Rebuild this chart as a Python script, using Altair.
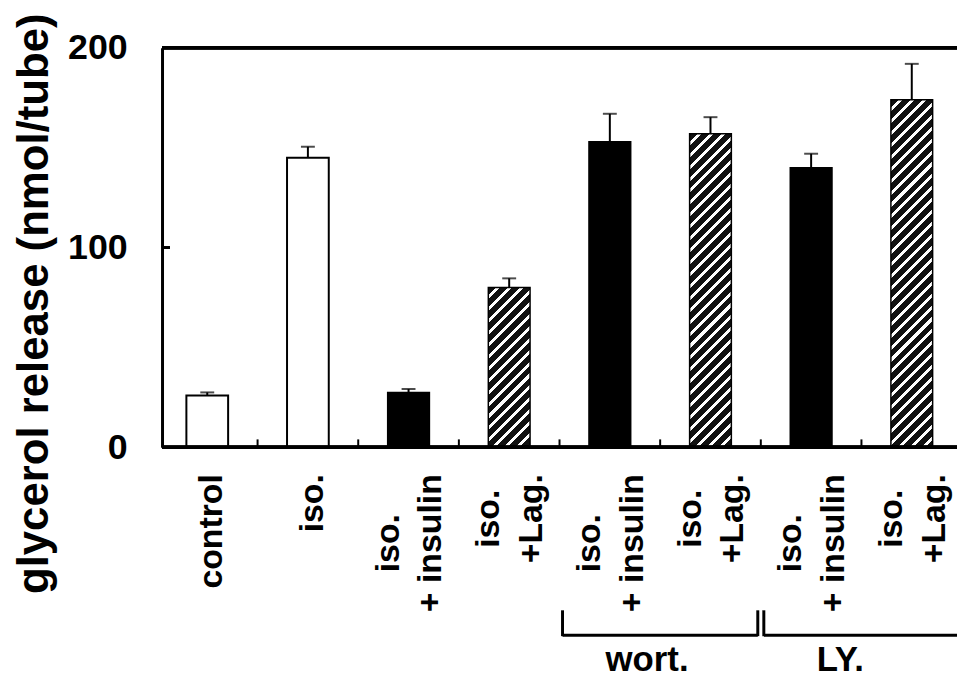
import altair as alt
import pandas as pd

# ---------------- data ----------------
labels = ["control", "iso.", "iso.|+ insulin", "iso.|+Lag.",
          "iso.|+ insulin", "iso.|+Lag.", "iso.|+ insulin", "iso.|+Lag."]
values = [26, 145, 27.5, 80, 153, 157, 140, 174]
errors = [1.5, 5.5, 1.7, 4.6, 14, 8.3, 7, 18]
styles = ["open", "open", "solid", "hatch", "solid", "hatch", "solid", "hatch"]

groups = ["wort.", "LY."]
group_first = [4, 6]
group_last = [5, 7]
group_label_x = [4.37, 6.29]

y_ticks = [0, 100, 200]
y_title = "glycerol release (nmol/tube)"

# ---------------- layout ----------------
PLOT_W, PLOT_H = 800, 402
BAR_W = 42
FONT = "Liberation Sans"
LABEL_SIZE = 34
LABEL_TOP = PLOT_H + 27          # pixel where the longest label line ends

# Arial/Liberation Sans Bold advance widths (per em) for centring the lines
ADV = {" ": .278, "+": .584, ".": .278, "L": .611, "a": .556, "c": .556, "g": .611,
       "i": .278, "l": .278, "n": .611, "o": .611, "r": .389, "s": .556, "t": .333,
       "u": .611}
def text_w(s):
    return sum(ADV.get(ch, .556) for ch in s) * LABEL_SIZE

rows = []
for i, lbl in enumerate(labels):
    parts = lbl.split("|")
    centre = LABEL_TOP + max(text_w(p) for p in parts) / 2.0
    for j, p in enumerate(parts):
        kind = "single" if len(parts) == 1 else ("first" if j == 0 else "second")
        rows.append({"idx": i, "line": p, "kind": kind, "ypix": centre})
lab_df = pd.DataFrame(rows)

df = pd.DataFrame({
    "idx": list(range(len(values))),
    "value": values,
    "err": errors,
    "style": styles,
})
df["upper"] = df["value"] + df["err"]

ticks_df = pd.DataFrame({"tx": [i + 0.5 for i in range(len(values) - 1)]})

gdf = pd.DataFrame({"group": groups, "first": group_first, "last": group_last,
                    "label_x": group_label_x})
gdf["left"] = gdf["first"] - 0.47
gdf["right"] = gdf["last"] + 0.47

xscale = alt.Scale(domain=[-0.4, 7.4], nice=False, zero=False)
yscale = alt.Scale(domain=[0, 200], nice=False, zero=False)
yaxis = alt.Axis(values=y_ticks, title=y_title, ticks=False, tickSize=0, grid=False,
                 domainWidth=3, domainColor="black",
                 labelFont=FONT, labelFontSize=36, labelFontWeight="bold", labelColor="black",
                 labelPadding=35, labelAlign="right", labelBaseline="middle",
                 titleFont=FONT, titleFontSize=44, titleFontWeight="bold", titleColor="black",
                 titleAngle=270, titleX=-115, titleY=257, titleAlign="center",
                 titleBaseline="alphabetic")

def X(field):
    return alt.X(field, scale=xscale, axis=None)

def Y(field):
    return alt.Y(field, scale=yscale, axis=yaxis)

base = alt.Chart(df)

open_bars = base.transform_filter(alt.datum.style == "open").mark_bar(
    size=BAR_W, fill="white", stroke="black", strokeWidth=2
).encode(x=X("idx:Q"), y=Y("value:Q"))

solid_bars = base.transform_filter(alt.datum.style == "solid").mark_bar(
    size=BAR_W, fill="black", stroke="black", strokeWidth=1.5
).encode(x=X("idx:Q"), y=Y("value:Q"))

def hatch_fill(v, period=12.0, black_frac=0.66):
    W = float(BAR_W)
    H = v * PLOT_H / 200.0
    s = W + H
    d = W * W + H * H
    n = s / period
    stops = []
    k = 0
    while k < n:
        a = min(k / n, 1.0)
        b = min((k + black_frac) / n, 1.0)
        c = min((k + 1) / n, 1.0)
        stops += [{"offset": a, "color": "#111111"}, {"offset": b, "color": "#111111"},
                  {"offset": b, "color": "#ffffff"}, {"offset": c, "color": "#ffffff"}]
        k += 1
    return {"gradient": "linear", "x1": 0, "y1": 0,
            "x2": W * s / d, "y2": H * s / d, "stops": stops}

hatch_layers = []
for i, (v, st) in enumerate(zip(values, styles)):
    if st != "hatch":
        continue
    hatch_layers.append(
        base.transform_filter(alt.datum.idx == i).mark_bar(
            size=BAR_W, fill=hatch_fill(v), stroke="black", strokeWidth=1.5
        ).encode(x=X("idx:Q"), y=Y("value:Q"))
    )

err_lines = base.mark_rule(color="black", strokeWidth=2).encode(
    x=X("idx:Q"), y=Y("value:Q"), y2="upper:Q")
err_caps = base.mark_tick(orient="horizontal", size=14, thickness=2, color="black").encode(
    x=X("idx:Q"), y=Y("upper:Q"))

top_line = alt.Chart(df).mark_rule(color="black", strokeWidth=3).encode(
    y=alt.Y(datum=200, type="quantitative", scale=yscale, axis=yaxis))
bottom_line = alt.Chart(df).mark_rule(color="black", strokeWidth=3).encode(
    y=alt.Y(datum=0, type="quantitative", scale=yscale, axis=yaxis))
y_inner_tick = alt.Chart(df).mark_rule(color="black", strokeWidth=2).encode(
    y=alt.Y(datum=100, type="quantitative", scale=yscale, axis=yaxis),
    x=alt.value(0), x2=alt.value(8))

x_inner_ticks = alt.Chart(ticks_df).mark_rule(color="black", strokeWidth=2).encode(
    x=X("tx:Q"), y=alt.value(PLOT_H), y2=alt.value(PLOT_H - 8))

def label_layer(kind, dy):
    return alt.Chart(lab_df).transform_filter(alt.datum.kind == kind).mark_text(
        angle=270, align="center", baseline="alphabetic",
        font=FONT, fontSize=LABEL_SIZE, fontWeight="bold", color="black", dy=dy
    ).encode(x=X("idx:Q"), y=alt.Y("ypix:Q", scale=None), text="line:N")

lab_single = label_layer("single", 15)
lab_first = label_layer("first", -10)
lab_second = label_layer("second", 33)

gbase = alt.Chart(gdf)
bracket_ends = gbase.transform_fold(["left", "right"], as_=["end", "bx"]).mark_rule(
    color="black", strokeWidth=3
).encode(x=X("bx:Q"), y=alt.value(PLOT_H + 164), y2=alt.value(PLOT_H + 190))
bracket_bars = gbase.mark_rule(color="black", strokeWidth=3).encode(
    x=X("left:Q"), x2="right:Q", y=alt.value(PLOT_H + 189))
group_text = gbase.mark_text(
    align="center", baseline="alphabetic", font=FONT, fontSize=35, fontWeight="bold",
    color="black"
).encode(x=X("label_x:Q"), y=alt.value(PLOT_H + 225), text="group:N")

chart = alt.layer(
    open_bars, solid_bars, *hatch_layers, err_lines, err_caps,
    top_line, bottom_line, y_inner_tick, x_inner_ticks,
    lab_single, lab_first, lab_second, bracket_ends, bracket_bars, group_text
).properties(
    width=PLOT_W, height=PLOT_H,
    padding={"left": 155, "top": 38, "right": 0, "bottom": 230},
    autosize=alt.AutoSizeParams(type="none"),
    background="white",
).configure_view(strokeWidth=0)

chart.save("out.html", embed_options={"renderer": "svg", "actions": False})
